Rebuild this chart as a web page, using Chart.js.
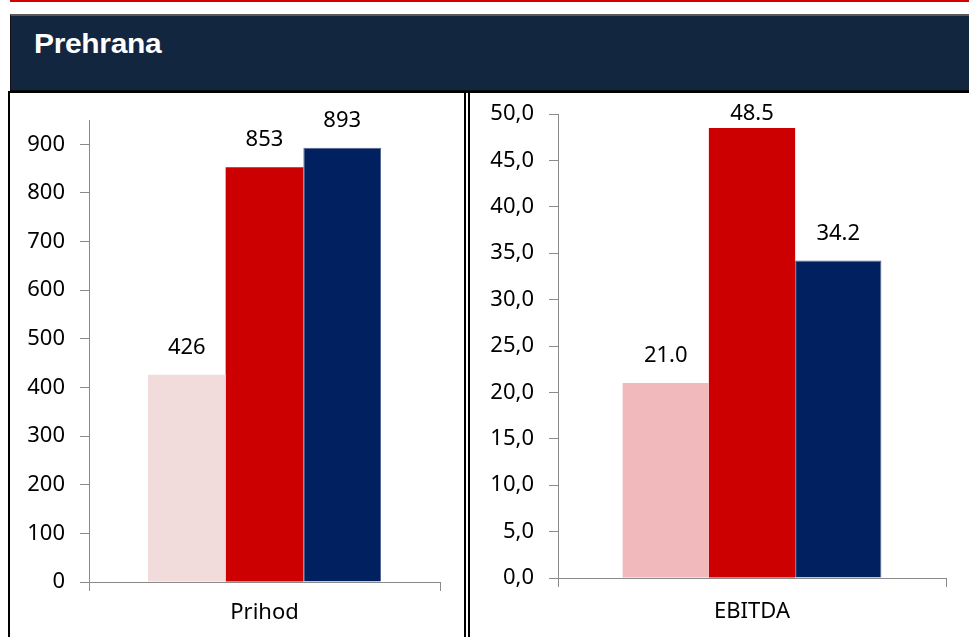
<!DOCTYPE html>
<html>
<head>
<meta charset="utf-8">
<script src="https://cdn.jsdelivr.net/npm/chart.js@4.4.1/dist/chart.umd.min.js"></script>
<style>
  html, body { margin:0; padding:0; background:#fff; width:969px; height:637px; overflow:hidden; }
  #redline { position:absolute; left:10px; top:0; width:959px; height:2px; background:#d40000; }
  #header { position:absolute; left:10px; top:14px; width:959px; height:79px; background:#122640;
            border-top:2px solid #5a5a5a; border-left:1px solid #111; border-bottom:3px solid #0a0a0a; box-sizing:border-box; }
  #title { position:absolute; left:34px; top:30px; color:#fff; font-family:'Liberation Sans', Arial, sans-serif;
           font-weight:bold; font-size:28px; line-height:28px; letter-spacing:-0.3px; transform:scaleX(1.07); transform-origin:left center; white-space:nowrap; }
  #panelL { position:absolute; left:8px; top:91px; width:458px; height:600px; border:2px solid #000; box-sizing:border-box; }
  #panelR { position:absolute; left:468px; top:91px; width:520px; height:600px; border-left:2px solid #000; border-top:2px solid #000; box-sizing:border-box; }
  canvas { position:absolute; }
  #cL { left:10px; top:93px; }
  #cR { left:470px; top:93px; }
</style>
</head>
<body>
<div id="redline"></div>
<div id="header"></div>
<div id="title">Prehrana</div>
<div id="panelL"></div>
<div id="panelR"></div>
<canvas id="cL" width="453" height="544"></canvas>
<canvas id="cR" width="499" height="544"></canvas>
<script>
// ---- data ----
const seriesNames = ['Serija 1', 'Serija 2', 'Serija 3'];
const categoriesLeft = ['Prihod'];
const categoriesRight = ['EBITDA'];
const prihodValues = [426, 853, 893];
const ebitdaValues = [21.0, 48.5, 34.2];
const leftTicks = [0, 100, 200, 300, 400, 500, 600, 700, 800, 900];
const rightTicks = [0, 5, 10, 15, 20, 25, 30, 35, 40, 45, 50];
const leftColors = ['#f2dcdb', '#cc0000', '#002060'];
const rightColors = ['#f2b9bd', '#cc0000', '#002060'];

const FONT = "'Noto Sans', 'Open Sans', sans-serif";
const AXIS_GRAY = '#8a8a8a';

const valueLabels = {
  id: 'valueLabels',
  afterDatasetsDraw(chart, args, opts) {
    const ctx = chart.ctx;
    ctx.save();
    ctx.font = '22px ' + FONT;
    ctx.fillStyle = '#000';
    ctx.textAlign = 'center';
    ctx.textBaseline = 'middle';
    chart.data.datasets.forEach((ds, i) => {
      const meta = chart.getDatasetMeta(i);
      meta.data.forEach((el, j) => {
        const v = ds.data[j];
        const txt = opts.decimals ? v.toFixed(opts.decimals) : String(v);
        const y = Math.max(el.y - 27, chart.chartArea.top);
        ctx.fillText(txt, el.x, y);
      });
    });
    ctx.restore();
  }
};

function makeChart(id, cats, values, colors, cfg) {
  const datasets = values.map((v, i) => ({
    label: seriesNames[i],
    data: [v],
    backgroundColor: colors[i],
    borderColor: i === 2 ? '#50668c' : colors[i],
    borderWidth: i === 2 ? 1 : 0,
    barPercentage: 1,
    categoryPercentage: cfg.catPct
  }));
  return new Chart(document.getElementById(id), {
    type: 'bar',
    data: { labels: cats, datasets },
    options: {
      responsive: false,
      animation: false,
      devicePixelRatio: 1,
      layout: { padding: { left: 0, right: cfg.padRight, top: cfg.padTop, bottom: 0 } },
      plugins: {
        legend: { display: false },
        tooltip: { enabled: false },
        valueLabels: { decimals: cfg.decimals }
      },
      scales: {
        x: {
          grid: { offset: true, drawOnChartArea: false, drawTicks: true, tickLength: 9, color: AXIS_GRAY, lineWidth: 1 },
          border: { display: true, color: AXIS_GRAY, width: 1 },
          ticks: { font: { family: FONT, size: 22 }, color: '#000', padding: cfg.xPad },
          afterFit(s) { s.height = cfg.xHeight; s.paddingLeft = 0; s.paddingRight = 0; }
        },
        y: {
          min: 0, max: cfg.max,
          grid: { drawOnChartArea: false, drawTicks: true, tickLength: 9, color: AXIS_GRAY, lineWidth: 1 },
          border: { display: true, color: AXIS_GRAY, width: 1 },
          ticks: {
            font: { family: FONT, size: 22 }, color: '#000', padding: 15,
            callback: cfg.tickFmt
          },
          afterBuildTicks(s) { s.ticks = cfg.ticks.map(v => ({ value: v })); },
          afterFit(s) { s.width = cfg.yWidth; s.paddingTop = 0; s.paddingBottom = 0; }
        }
      }
    },
    plugins: [valueLabels]
  });
}

makeChart('cL', categoriesLeft, prihodValues, leftColors, {
  catPct: 0.664, padRight: 23, padTop: 27, xHeight: 55, yWidth: 79, xPad: 9,
  max: 950, ticks: leftTicks, decimals: 0,
  tickFmt: v => String(v)
});
makeChart('cR', categoriesRight, ebitdaValues, rightColors, {
  catPct: 0.667, padRight: 23, padTop: 21, xHeight: 59, yWidth: 88, xPad: 12,
  max: 50, ticks: rightTicks, decimals: 1,
  tickFmt: v => v.toFixed(1).replace('.', ',')
});
</script>
</body>
</html>
